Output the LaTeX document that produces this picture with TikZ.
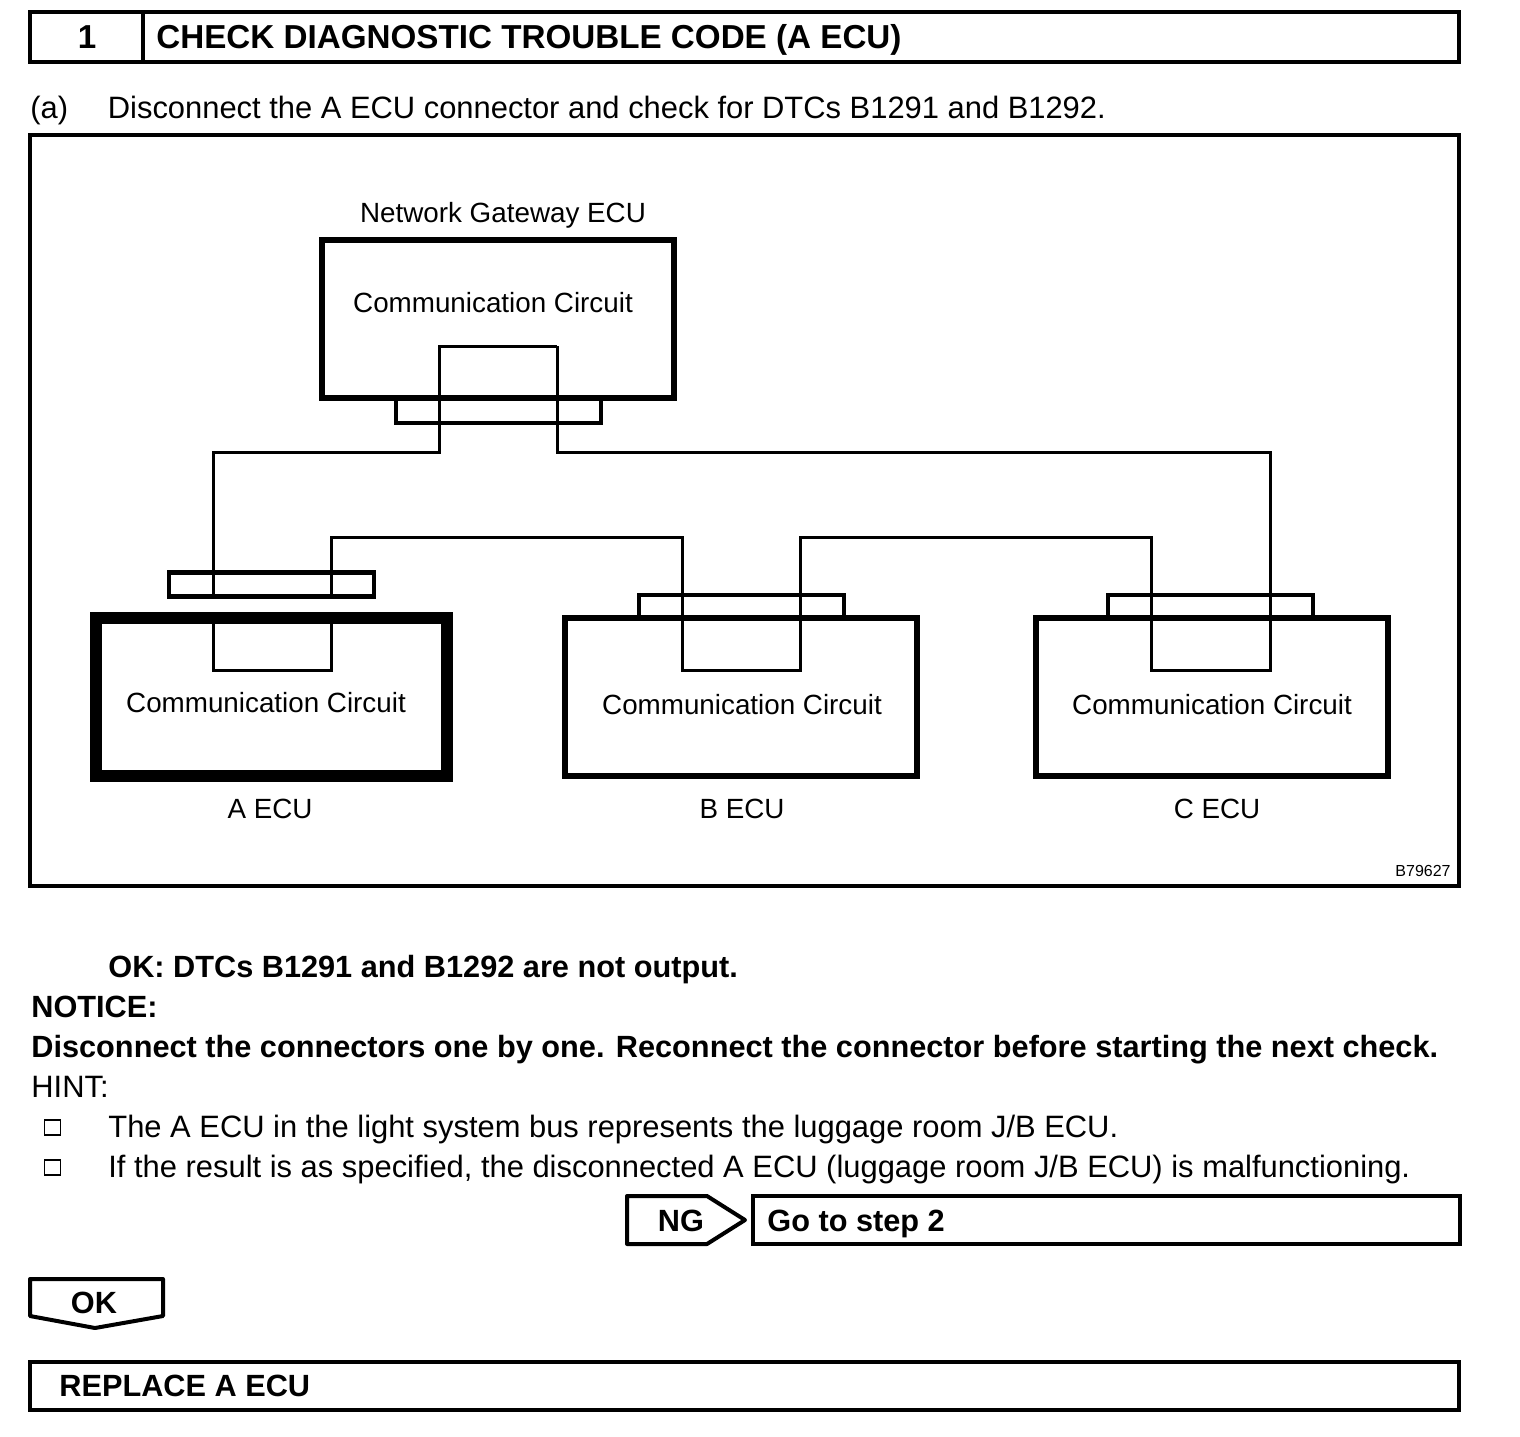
\documentclass[tikz,border=0pt]{standalone}
\usepackage{fontspec}
\setmainfont{Liberation Sans}
\usepackage{tikz}
\tikzset{
  frame/.style={draw=black,line width=2pt,inner sep=0pt,outer sep=0pt},
  ecubox/.style={draw=black,line width=3pt,inner sep=0pt,outer sep=0pt,minimum width=176pt,minimum height=79pt},
  connbox/.style={draw=black,line width=2.25pt,inner sep=0pt,outer sep=0pt,minimum width=102.5pt,minimum height=12pt},
  wire/.style={draw=black,line width=1.5pt},
  body/.style={anchor=base west,inner sep=0pt,font=\fontsize{15.45}{18}\selectfont},
  strong/.style={anchor=base west,inner sep=0pt,font=\fontsize{15.35}{18}\selectfont\bfseries},
  heading/.style={inner sep=0pt,font=\fontsize{16.6}{20}\selectfont\bfseries},
  label/.style={anchor=base,inner sep=0pt,font=\fontsize{13.9}{17}\selectfont},
  bullet/.style={draw=black,line width=0.8pt,inner sep=0pt,minimum width=8pt,minimum height=7.5pt}
}
\begin{document}
\begin{tikzpicture}[x=0.5pt,y=-0.5pt]
  \useasboundingbox (0,0) rectangle (1520,1436);

  % Title bar
  \node[frame,minimum width=714.5pt,minimum height=25pt] (titlebar) at (744.5,37) {};
  \coordinate (titlediv) at (143,12);
  \draw[frame] (titlediv) -- (titlediv |- titlebar.south);
  \node[heading,anchor=base] (stepnum) at (87,48) {1};
  \node[heading,anchor=base west] (titletext) at (156,48) {CHECK DIAGNOSTIC TROUBLE CODE (A ECU)};

  \node[body] (itema) at (30,118) {(a)};
  \node[body] (itematext) at (107.5,118) {Disconnect the A ECU connector and check for DTCs B1291 and B1292.};

  % Diagram frame
  \node[frame,minimum width=714.5pt,minimum height=375.5pt] (diagram) at (744.5,510.5) {};

  % Network Gateway ECU
  \node[ecubox] (gateway) at (498,318.5) {};
  \node[connbox] (gwconn) at (498.5,411) {};
  \node[label] (gwname) at (503,222.5) {Network Gateway ECU};
  \node[label] (gwtext) at (493,312) {Communication Circuit};

  % A ECU
  \node[ecubox,line width=6pt,minimum width=175.5pt] (aecu) at (271.5,697) {};
  \node[connbox] (aconn) at (271.5,584.5) {};
  \node[label] (atext) at (266,712) {Communication Circuit};
  \node[label] (aname) at (270,818) {A ECU};

  % B ECU
  \node[ecubox] (becu) at (741,697) {};
  \node[connbox,minimum height=11pt] (bconn) at (741.5,606) {};
  \node[label] (btext) at (742,714) {Communication Circuit};
  \node[label] (bname) at (742,818) {B ECU};

  % C ECU
  \node[ecubox] (cecu) at (1211.5,697) {};
  \node[connbox,minimum height=11pt] (cconn) at (1210.5,606) {};
  \node[label] (ctext) at (1212,714) {Communication Circuit};
  \node[label] (cname) at (1217,818) {C ECU};

  % Bus wiring
  \coordinate (gwL) at (439,346);
  \coordinate (gwR) at (557,346);
  \coordinate (topL) at (213,452);
  \coordinate (topR) at (1270,452);
  \coordinate (lowA) at (682,537);
  \coordinate (lowB) at (1151,537);
  \coordinate (aL) at (213,670);
  \coordinate (aR) at (331,670);
  \coordinate (bL) at (682,670);
  \coordinate (bR) at (800,670);
  \coordinate (cL) at (1151,670);
  \coordinate (cR) at (1270,670);
  \draw[wire] (gwR) -- (gwL) |- (topL) -- (topL |- aconn.south);
  \draw[wire] (aL |- aecu.north) -- (aL) -- (aR) -- (aR |- aecu.north);
  \draw[wire] (aR |- aconn.south) |- (lowA) -- (bL) -- (bR) |- (lowB) -- (cL) -- (cR) -- (topR) -| (gwR);

  \node[anchor=base east,inner sep=0pt,font=\fontsize{8}{9}\selectfont] (figcode) at (1451,876.5) {B79627};

  % Notes
  \node[strong] (okline) at (108,977) {OK: DTCs B1291 and B1292 are not output.};
  \node[strong] (notice) at (31,1017) {NOTICE:};
  \node[strong] (noticetext) at (31,1057) {Disconnect the connectors one by one. Reconnect the connector before starting the next check.};
  \node[body] (hint) at (31,1097) {HINT:};
  \node[bullet] (bulleta) at (52.5,1127.5) {};
  \node[body] (hinta) at (108,1137) {The A ECU in the light system bus represents the luggage room J/B ECU.};
  \node[bullet] (bulletb) at (52.5,1167.5) {};
  \node[body] (hintb) at (108,1177) {If the result is as specified, the disconnected A ECU (luggage room J/B ECU) is malfunctioning.};

  % NG branch
  \draw[frame,line join=round] (627,1196) -- (707,1196) -- (745,1220) -- (707,1244) -- (627,1244) -- cycle;
  \node[strong,anchor=base] (ngtext) at (681,1231) {NG};
  \node[frame,minimum width=353.5pt,minimum height=24pt] (gobox) at (1106.5,1220) {};
  \node[strong] (gotext) at (767,1231) {Go to step 2};

  % OK branch
  \draw[frame,line join=round] (30,1279) -- (163,1279) -- (163,1316) -- (95,1328) -- (30,1316) -- cycle;
  \node[strong,anchor=base] (oktext) at (94,1313) {OK};
  \node[frame,minimum width=714.5pt,minimum height=24pt] (replacebox) at (744.5,1386) {};
  \node[strong] (replacetext) at (59,1396) {REPLACE A ECU};
\end{tikzpicture}
\end{document}
